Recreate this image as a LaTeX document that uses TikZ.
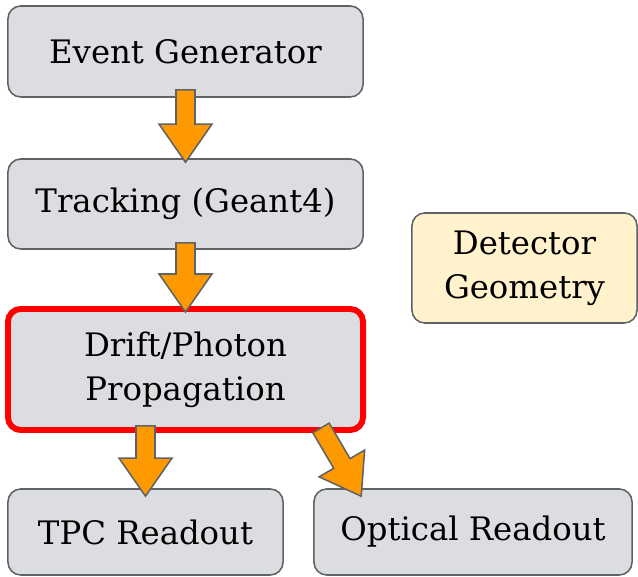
\documentclass[tikz,border=0pt]{standalone}
\usepackage{fontspec}
\setmainfont{DejaVu Serif}
\usetikzlibrary{calc}

\definecolor{boxgray}{HTML}{DCDDE0}
\definecolor{edgegray}{HTML}{5F6368}
\definecolor{arroworange}{HTML}{FF9900}
\definecolor{geomyellow}{HTML}{FFF2CC}

% block arrow: \blockarrow{from}{tip}
\newcommand{\shaftw}{0.2375cm}
\newcommand{\headw}{0.66cm}
\newcommand{\headl}{0.95cm}
\newcommand{\blockarrow}[2]{%
  \coordinate (ah) at ($(#2)!\headl!(#1)$);
  \draw[fill=arroworange,draw=edgegray,line width=1.1pt,line join=miter]
    ($(#1)!\shaftw!90:(#2)$) -- ($(ah)!\shaftw!90:(#2)$) -- ($(ah)!\headw!90:(#2)$)
    -- (#2) -- ($(ah)!\headw!-90:(#2)$) -- ($(ah)!\shaftw!-90:(#2)$)
    -- ($(#1)!\shaftw!-90:(#2)$) -- cycle;}

\begin{document}
\begin{tikzpicture}[x=0.025cm,y=0.025cm]
        \tikzstyle{every node}=[draw=edgegray,line width=1.1pt,fill=boxgray,
          rounded corners=0.32cm,shape=rectangle,align=center,
          font=\fontsize{23}{31.5}\selectfont];
        \useasboundingbox (0,0) rectangle (638,577);
        \clip (0,0) rectangle (638,577);
        %\node (name) at (x,y) [minimum width=w, minimum height=h] {text};
        \node (gen) at (185.5,525.5) [minimum width=8.875cm,minimum height=2.275cm] {Event Generator};
        \node (track) at (185.5,373) [minimum width=8.875cm,minimum height=2.25cm] {Tracking (Geant4)};
        \node (drift) at (185.5,207.5) [minimum width=8.875cm,minimum height=3.025cm,draw=red,line width=4.2pt] {Drift/Photon\\Propagation};
        \node (geom) at (524.5,309) [minimum width=5.625cm,minimum height=2.75cm,fill=geomyellow] {Detector\\Geometry};
        \node (tpc) at (145.5,45) [minimum width=6.875cm,minimum height=2.15cm] {TPC Readout};
        \node (opt) at (473,45) [minimum width=7.95cm,minimum height=2.15cm] {Optical Readout};
        % arrows
        \coordinate (a1) at ($(gen.south)+(0,8)$);
        \coordinate (b1) at ($(track.north)+(0,-4)$);
        \coordinate (a2) at ($(track.south)+(0,7)$);
        \coordinate (b2) at ($(drift.north)+(0,-6)$);
        \coordinate (a3) at ($(drift.south)+(-40,7)$);
        \coordinate (b3) at ($(tpc.north)+(0,-8)$);
        \coordinate (a4) at ($(drift.south east)+(-45,5)$);
        \coordinate (b4) at ($(opt.north west)+(48,-8)$);
        \blockarrow{a1}{b1}
        \blockarrow{a2}{b2}
        \blockarrow{a3}{b3}
        \blockarrow{a4}{b4}
    \end{tikzpicture}
\end{document}
